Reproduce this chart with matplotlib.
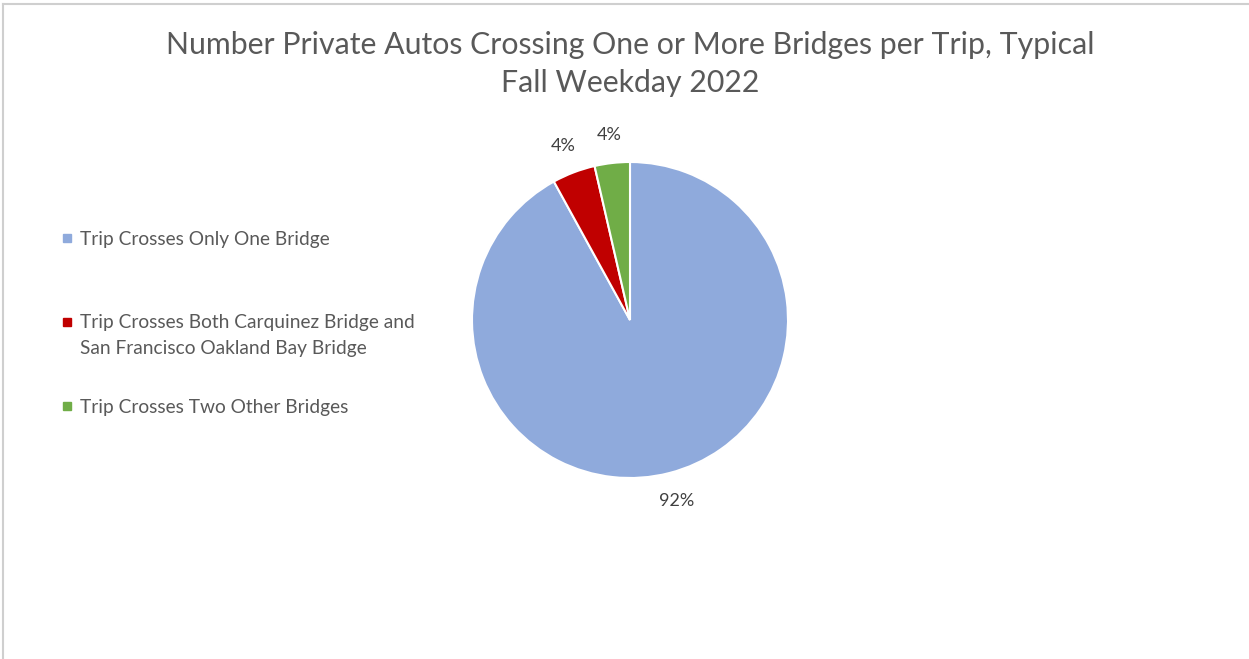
import matplotlib.pyplot as plt
from matplotlib.patches import Rectangle
from matplotlib.lines import Line2D

# data
labels = ['Trip Crosses Only One Bridge',
          'Trip Crosses Both Carquinez Bridge and\nSan Francisco Oakland Bay Bridge',
          'Trip Crosses Two Other Bridges']
shares = [92.0, 4.4, 3.6]
colors = ['#8faadc', '#c00000', '#70ad47']
title = 'Number Private Autos Crossing One or More Bridges per Trip, Typical\nFall Weekday 2022'

plt.rcParams['font.family'] = ['Lato', 'DejaVu Sans']
W, H = 1249, 659
fig = plt.figure(figsize=(W / 100, H / 100), dpi=100)

# pie centred at (630, 320) px, radius ~158 px
cx, cy, r = 630, 320, 158
ax = fig.add_axes([(cx - r) / W, 1 - (cy + r) / H, 2 * r / W, 2 * r / H])
wedges, texts, autotexts = ax.pie(
    shares, colors=colors, startangle=90, counterclock=False,
    autopct='%.0f%%', pctdistance=1.18,
    wedgeprops=dict(edgecolor='white', linewidth=1.5))
for t in autotexts:
    t.set_color('#404040')
    t.set_fontsize(13)
ax.set_xlim(-1, 1)
ax.set_ylim(-1, 1)
ax.set_aspect('equal')

fig.text(630 / W, 1 - 64 / H, title, ha='center', va='center',
         fontsize=21.8, color='#595959', linespacing=1.4)

# legend drawn by hand to mimic the Excel layout
leg_y = [238, 322, 406]
for lab, col, y in zip(labels, colors, leg_y):
    fig.patches.append(Rectangle((63 / W, 1 - (y + 4) / H), 8 / W, 8 / H,
                                 transform=fig.transFigure, color=col))
    if '\n' in lab:
        fig.text(80 / W, 1 - (y - 8) / H, lab, ha='left', va='top',
                 fontsize=13.8, color='#595959', linespacing=1.65)
    else:
        fig.text(80 / W, 1 - y / H, lab, ha='left', va='center_baseline',
                 fontsize=13.8, color='#595959')

# frame of the screenshot
fig.add_artist(Line2D([3 / W, 1], [1 - 4 / H, 1 - 4 / H], color='#cfcfcf', lw=1.5))
fig.add_artist(Line2D([3 / W, 3 / W], [0, 1 - 4 / H], color='#cfcfcf', lw=1.5))

fig.savefig('out.png', dpi=100)
